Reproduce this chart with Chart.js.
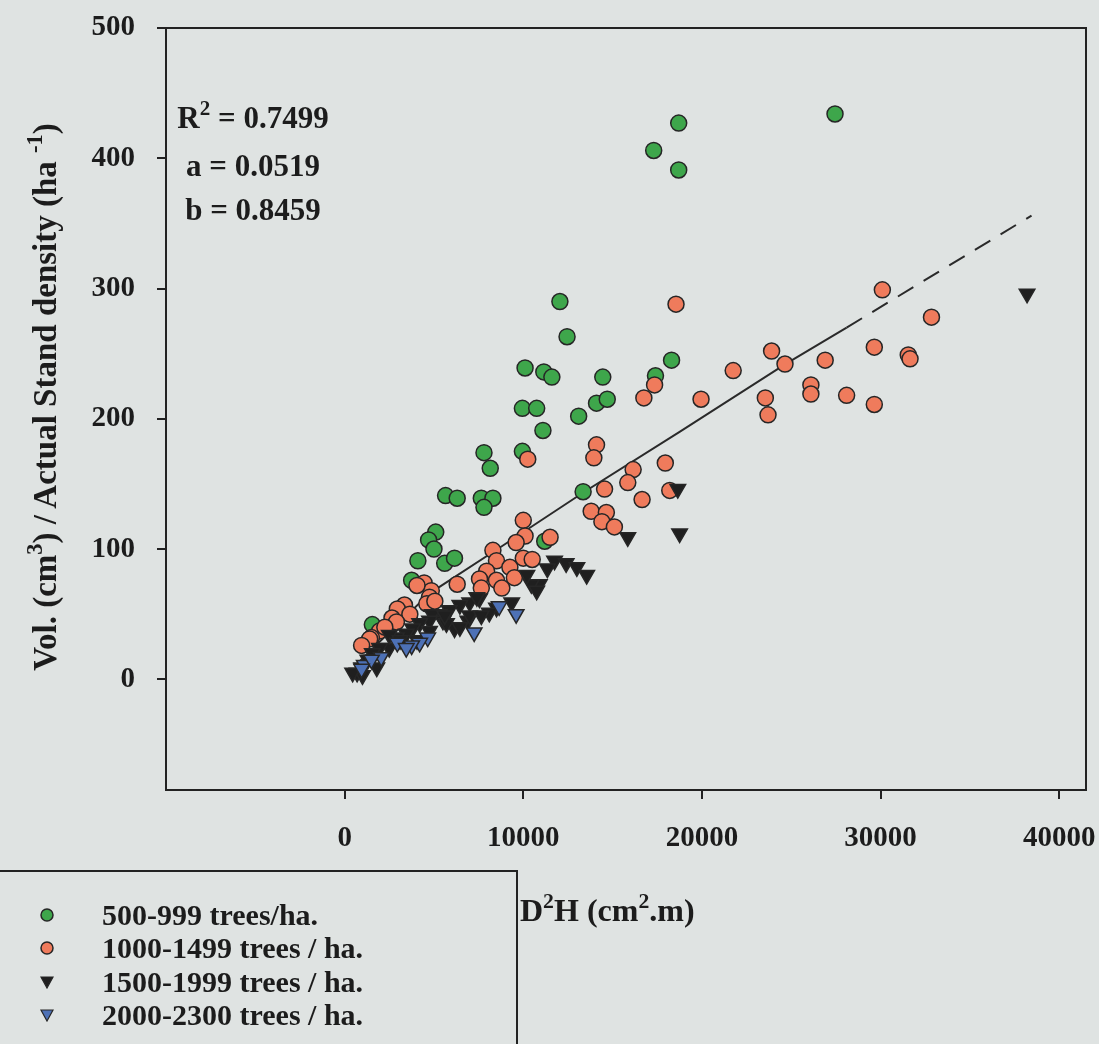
<!DOCTYPE html>
<html>
<head>
<meta charset="utf-8">
<script src="https://cdn.jsdelivr.net/npm/chart.js@4.4.0/dist/chart.umd.min.js"></script>
<style>
  html, body { margin: 0; padding: 0; }
  body {
    width: 1099px; height: 1044px; position: relative; overflow: hidden;
    background: #dfe3e2;
    font-family: 'Liberation Serif', 'Times New Roman', serif;
    font-weight: bold; color: #1c1c1c;
  }
  #chart { position: absolute; left: 0; top: 0; }
  .txt { position: absolute; white-space: nowrap; }
  .sup { font-size: 0.68em; position: relative; top: -0.62em; }
  #stats { left: 153px; top: 96px; width: 200px; text-align: center; font-size: 31px; line-height: 44.5px; }
  #ytitle { left: -305px; top: 377px; width: 700px; height: 40px; line-height: 40px; text-align: center;
            font-size: 33px; transform: rotate(-90deg); }
  #xtitle { left: 520px; top: 890px; font-size: 32px; line-height: 40px; }
  .rule { position: absolute; background: #222; }
  .leg { position: absolute; left: 30px; height: 34px; line-height: 34px; font-size: 30px; white-space: nowrap; }
  .leg svg { position: absolute; left: 10px; top: 10px; }
  .leg span { position: absolute; left: 72px; }
</style>
</head>
<body>
<canvas id="chart" width="1099" height="1044"></canvas>

<div class="txt" id="stats">
  <div>R<span class="sup">2</span> = 0.7499</div>
  <div>a = 0.0519</div>
  <div>b = 0.8459</div>
</div>
<div class="txt" id="ytitle">Vol. (cm<span class="sup">3</span>) / Actual Stand density (ha <span class="sup">-1</span>)</div>
<div class="txt" id="xtitle">D<span class="sup">2</span>H (cm<span class="sup">2</span>.m)</div>

<!-- caixa da legenda -->
<div class="rule" style="left:0;top:870px;width:518px;height:2px"></div>
<div class="rule" style="left:516px;top:870px;width:2px;height:174px"></div>
<div id="legend"></div>

<script>
// pontos: [D2H, volume / densidade]
const green = [
  [27450,434],[18700,427],[17300,406],[18700,391],[12050,290],[12450,263],[10100,239],[11150,236],
  [11600,232],[14450,232],[18300,245],[17400,233],[9950,208],[10750,208],[11100,191],[13100,202],
  [14100,212],[14700,215],[7800,174],[8150,162],[9950,175],[5650,141],[6300,139],[7650,139],
  [8300,139],[7800,132],[5100,113],[4700,107],[5000,100],[13350,144],[4100,91],[5600,89],
  [6150,93],[3750,76],[11200,106],[1550,42]
];
const orange = [
  [18550,288],[30100,299],[32850,278],[23900,252],[24650,242],[21750,237],[26900,245],[29650,255],
  [31550,249],[31650,246],[17350,226],[16750,216],[19950,215],[23550,216],[23700,203],[26100,226],
  [26100,219],[28100,218],[29650,211],[14100,180],[13950,170],[10250,169],[17950,166],[16150,161],
  [15850,151],[14550,146],[16650,138],[18200,145],[13800,129],[14650,128],[14400,121],[15100,117],
  [10000,122],[10100,110],[9600,105],[11500,109],[8300,99],[10000,93],[10500,92],[8500,91],
  [9250,86],[7950,83],[9500,78],[7550,77],[8500,76],[8800,70],[7650,70],[6300,73],
  [4450,74],[4850,68],[4750,63],[4600,58],[3350,57],[2950,54],[3650,50],[2650,47],
  [2900,44],[1950,37],[1500,32],[2250,40],[5050,60],[1400,31],[950,26],[4050,72]
];
const black = [
  [38200,296],[18650,146],[15850,109],[18750,112],[11750,91],[12400,89],[13000,86],[13550,80],
  [11350,85],[10900,73],[10450,73],[10200,80],[10750,68],[9350,59],[8500,55],[8100,51],
  [7550,62],[7000,59],[7400,63],[6450,57],[5850,53],[5300,50],[6900,45],[6150,39],
  [5500,45],[4900,50],[4750,45],[4200,43],[3800,39],[3450,35],[4050,30],[2900,32],
  [2500,24],[1950,24],[1550,20],[1300,15],[950,9],[700,5],[1000,3],[1800,9],
  [5700,43],[6450,40],[450,5],[2500,34],[3100,30],[4750,37],[5600,49],[7000,49],[7650,49]
];
const blue = [
  [8650,56],[9600,50],[7250,36],[4650,32],[4200,28],[3750,26],[2950,28],[2050,17],
  [1100,11],[3450,24],[1500,15],[950,8]
];
// linha de regressão (trecho cheio e trecho tracejado)
const fitSolid = [[700,12],[4755,66],[8671,101],[13426,144],[18750,190],[24670,242],[28100,270]];
const fitDashed = [[28100,270],[38450,356]];

const xTicks = [0, 10000, 20000, 30000, 40000];
const yTicks = [0, 100, 200, 300, 400, 500];

const groupNames = ['500-999 trees/ha.', '1000-1499 trees / ha.', '1500-1999 trees / ha.', '2000-2300 trees / ha.'];
const groupColors = ['#3ea64b', '#ef7b5c', '#1f1f1f', '#4d71b6'];

const toXY = arr => arr.map(p => ({ x: p[0], y: p[1] }));
const tickFont = { family: "'Liberation Serif', serif", weight: 'bold', size: 29 };

// moldura completa em volta da área do gráfico
const framePlugin = {
  id: 'frame',
  afterDraw(chart) {
    const { ctx, chartArea: a } = chart;
    ctx.save();
    ctx.strokeStyle = '#222';
    ctx.lineWidth = 2;
    ctx.strokeRect(a.left, a.top, a.right - a.left, a.bottom - a.top);
    ctx.restore();
  }
};

function pointSet(data, color, style, order) {
  return {
    data: toXY(data),
    backgroundColor: color,
    borderColor: '#262626',
    borderWidth: 1.5,
    pointStyle: style,
    rotation: style === 'triangle' ? 180 : 0,
    pointRadius: style === 'triangle' ? 9 : 8,
    order: order
  };
}

new Chart(document.getElementById('chart'), {
  type: 'scatter',
  data: {
    datasets: [
      { data: toXY(fitSolid), showLine: true, borderColor: '#2a2a2a', borderWidth: 2, pointRadius: 0, order: 6 },
      { data: toXY(fitDashed), showLine: true, borderColor: '#2a2a2a', borderWidth: 2, borderDash: [18, 12], pointRadius: 0, order: 6 },
      pointSet(green, groupColors[0], 'circle', 4),
      pointSet(orange, groupColors[1], 'circle', 3),
      pointSet(black, groupColors[2], 'triangle', 2),
      pointSet(blue, groupColors[3], 'triangle', 1)
    ]
  },
  options: {
    responsive: false,
    animation: false,
    devicePixelRatio: 1,
    layout: { padding: { top: 28, right: 13, left: 0, bottom: 0 } },
    plugins: { legend: { display: false }, tooltip: { enabled: false } },
    scales: {
      x: {
        type: 'linear', min: -10000, max: 41500,
        // altura fixa e sem folga lateral para os rótulos
        afterFit: s => { s.height = 254; s.paddingLeft = 0; s.paddingRight = 0; },
        afterBuildTicks: s => { s.ticks = xTicks.map(v => ({ value: v })); },
        grid: { drawOnChartArea: false, tickLength: 9, color: '#222', lineWidth: 2 },
        border: { display: false },
        ticks: { font: tickFont, color: '#1c1c1c', padding: 22, maxRotation: 0, callback: v => String(v) }
      },
      y: {
        type: 'linear', min: -85, max: 500,
        afterFit: s => { s.width = 166; s.paddingTop = 0; s.paddingBottom = 0; },
        afterBuildTicks: s => { s.ticks = yTicks.map(v => ({ value: v })); },
        grid: { drawOnChartArea: false, tickLength: 9, color: '#222', lineWidth: 2 },
        border: { display: false },
        ticks: { font: tickFont, color: '#1c1c1c', padding: 22, callback: v => String(v) }
      }
    }
  },
  plugins: [framePlugin]
});

// legenda em HTML (marcadores pequenos + texto)
const legendRowsY = [898, 931, 965, 998];
const legend = document.getElementById('legend');
groupNames.forEach((name, i) => {
  const row = document.createElement('div');
  row.className = 'leg';
  row.style.top = legendRowsY[i] + 'px';
  const shape = i < 2
    ? '<circle cx="7" cy="7" r="6" fill="' + groupColors[i] + '" stroke="#262626" stroke-width="1.5"/>'
    : '<polygon points="1,2 13,2 7,13" fill="' + groupColors[i] + '" stroke="#262626" stroke-width="1.2"/>';
  row.innerHTML = '<svg width="14" height="14" viewBox="0 0 14 14">' + shape + '</svg><span>' + name + '</span>';
  legend.appendChild(row);
});
</script>
</body>
</html>
